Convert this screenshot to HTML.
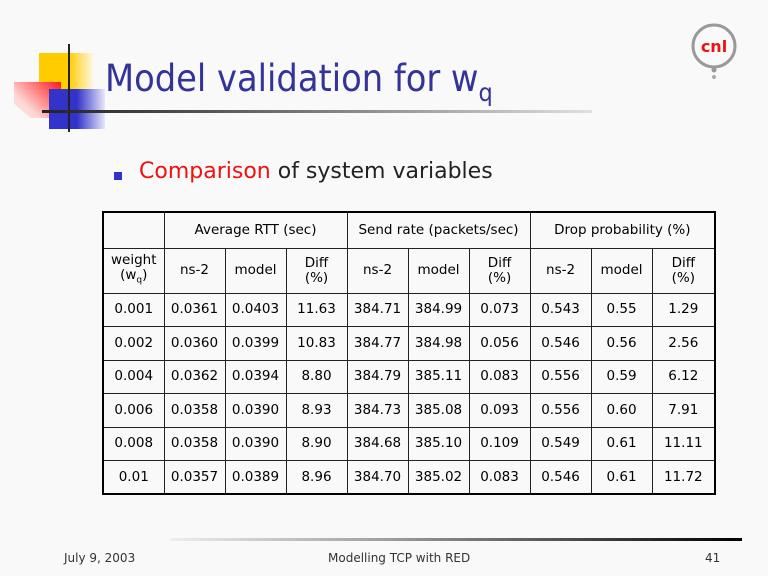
<!DOCTYPE html>
<html><head><meta charset="utf-8"><style>
body{margin:0;width:768px;height:576px;background:#f9f9f9;position:relative;overflow:hidden;font-family:"DejaVu Sans","Liberation Sans",sans-serif;}
.a{position:absolute}
table{border-collapse:collapse;position:absolute;left:102px;top:211px;width:612px;height:282px;border:2px solid #000;font-size:13.5px;color:#000;table-layout:fixed}
td{border:1px solid #222;text-align:center;padding:0;line-height:15px}
tr.d{height:33.5px}
</style></head><body>
<div class="a" style="left:39px;top:53px;width:54px;height:45px;background:linear-gradient(90deg,#ffcc00 55%,#fff7e0)"></div>
<div class="a" style="left:14px;top:82px;width:47px;height:36px;background:linear-gradient(225deg,#ff1a1a,#ffd5d5 70%,#fbe8e8);clip-path:polygon(0 0,100% 0,100% 100%,35% 100%,0 60%)"></div>
<div class="a" style="left:49px;top:89px;width:56px;height:40px;background:linear-gradient(90deg,#3333cc 50%,#e8e8f8)"></div>
<div class="a" style="left:68px;top:44px;width:2px;height:88px;background:#222"></div>
<div class="a" style="left:42px;top:110px;width:550px;height:3px;background:linear-gradient(90deg,#222,#555 30%,#e0e0e0)"></div>
<div class="a" style="left:105px;top:56px;font-size:37.5px;color:#333399;font-family:'DejaVu Sans Condensed','DejaVu Sans',sans-serif;">Model validation for w<sub style="font-size:25px;vertical-align:-10px">q</sub></div>
<svg class="a" style="left:686px;top:18px" width="56" height="64"><circle cx="28" cy="28" r="21" fill="none" stroke="#999" stroke-width="3"/><circle cx="28" cy="52" r="2.5" fill="#999"/><circle cx="28" cy="59" r="2" fill="#aaa"/><text x="28" y="34" text-anchor="middle" font-size="16" font-weight="bold" fill="#ee1111" font-family="DejaVu Sans">cnl</text></svg>
<div class="a" style="left:114px;top:172px;width:8px;height:8px;background:#3333cc"></div>
<div class="a" style="left:139px;top:159px;font-size:22px;color:#222">
<span style="color:#ee1111">Comparison</span> of system variables</div>
<table>
<colgroup><col style="width:61px"><col style="width:61px"><col style="width:61px"><col style="width:61px"><col style="width:61px"><col style="width:61px"><col style="width:61px"><col style="width:61px"><col style="width:61px"><col style="width:63px"></colgroup>
<tr style="height:36px"><td></td><td colspan="3">Average RTT (sec)</td><td colspan="3">Send rate (packets/sec)</td><td colspan="3">Drop probability (%)</td></tr>
<tr style="height:45px"><td>weight<br>(w<sub style="font-size:9px">q</sub>)</td><td>ns-2</td><td>model</td><td>Diff<br>(%)</td><td>ns-2</td><td>model</td><td>Diff<br>(%)</td><td>ns-2</td><td>model</td><td>Diff<br>(%)</td></tr>
<tr class="d"><td>0.001</td><td>0.0361</td><td>0.0403</td><td>11.63</td><td>384.71</td><td>384.99</td><td>0.073</td><td>0.543</td><td>0.55</td><td>1.29</td></tr>
<tr class="d"><td>0.002</td><td>0.0360</td><td>0.0399</td><td>10.83</td><td>384.77</td><td>384.98</td><td>0.056</td><td>0.546</td><td>0.56</td><td>2.56</td></tr>
<tr class="d"><td>0.004</td><td>0.0362</td><td>0.0394</td><td>8.80</td><td>384.79</td><td>385.11</td><td>0.083</td><td>0.556</td><td>0.59</td><td>6.12</td></tr>
<tr class="d"><td>0.006</td><td>0.0358</td><td>0.0390</td><td>8.93</td><td>384.73</td><td>385.08</td><td>0.093</td><td>0.556</td><td>0.60</td><td>7.91</td></tr>
<tr class="d"><td>0.008</td><td>0.0358</td><td>0.0390</td><td>8.90</td><td>384.68</td><td>385.10</td><td>0.109</td><td>0.549</td><td>0.61</td><td>11.11</td></tr>
<tr class="d"><td>0.01</td><td>0.0357</td><td>0.0389</td><td>8.96</td><td>384.70</td><td>385.02</td><td>0.083</td><td>0.546</td><td>0.61</td><td>11.72</td></tr>
</table>
<div class="a" style="left:170px;top:538px;width:572px;height:3px;background:linear-gradient(90deg,#eee,#999 40%,#000)"></div>
<div class="a" style="left:64px;top:551px;font-size:12px;color:#333">July 9, 2003</div>
<div class="a" style="left:328px;top:551px;font-size:12px;color:#333">Modelling TCP with RED</div>
<div class="a" style="left:705px;top:551px;font-size:12px;color:#333">41</div>
</body></html>
